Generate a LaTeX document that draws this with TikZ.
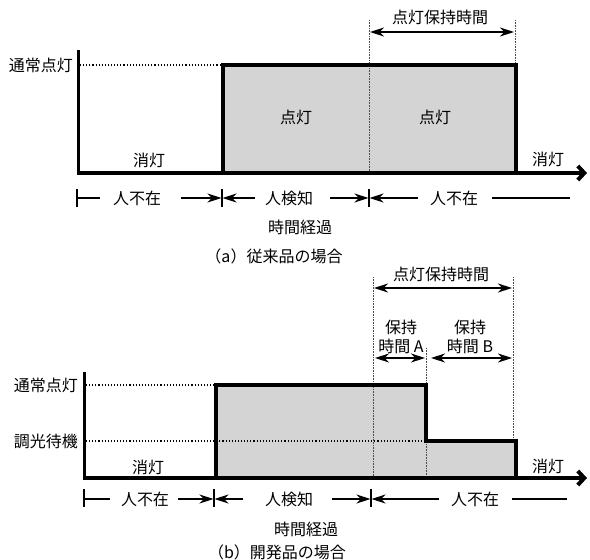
\documentclass[tikz,border=0pt]{standalone}
\usepackage{fontspec}
\newfontfamily\jp{Noto Sans CJK JP}
\usetikzlibrary{arrows.meta}
\definecolor{boxgray}{RGB}{212,212,212}
\tikzset{
  stepline/.style={line width=4pt, line join=miter},
  yaxis/.style={line width=3pt},
  xaxis/.style={line width=4pt, -{Straight Barb[length=6.5pt,width=14pt]}},
  dimarr/.style={line width=1.1pt, {Stealth[length=14pt,width=9pt,inset=4.5pt]}-{Stealth[length=14pt,width=9pt,inset=4.5pt]}},
  rarr/.style={line width=1.1pt, -{Stealth[length=14pt,width=9pt,inset=4.5pt]}},
  plainline/.style={line width=1.1pt},
  tickline/.style={line width=1.1pt},
  levelline/.style={line width=1.1pt, dash pattern=on 1.1pt off 2pt},
  guide/.style={line width=0.5pt, black!70, dash pattern=on 0.6pt off 1pt},
  lbl/.style={font=\jp\fontsize{16}{19}\selectfont, inner sep=0pt},
}
\begin{document}
\begin{tikzpicture}[x=1pt,y=-1pt]
\useasboundingbox (0,0) rectangle (590,560);

% ================= (a) =================
\fill[boxgray] (223,65) rectangle (516,173);
% guides
\coordinate (aG1t) at (369,20); \coordinate (aG1b) at (369,173);
\coordinate (aG2t) at (515,20); \coordinate (aG2b) at (515,65);
\draw[guide] (aG1t) -- (aG1b);
\draw[guide] (aG2t) -- (aG2b);
% level line
\coordinate (aL1) at (80,65); \coordinate (aL2) at (221,65);
\draw[levelline] (aL1) -- (aL2);
% axes
\coordinate (aYt) at (78,50); \coordinate (aO) at (78,173); \coordinate (aXe) at (587,173);
\draw[yaxis] (aYt) -- (78,175);
\draw[xaxis] (76.5,173) -- (aXe);
% step
\coordinate (aS1) at (223,173); \coordinate (aS2) at (223,65);
\coordinate (aS3) at (516,65); \coordinate (aS4) at (516,173);
\draw[stepline] (aS1) -- (aS2) -- (aS3) -- (aS4);
% texts
\node[lbl, anchor=east] (aNorm) at (73,65) {通常点灯};
\node[lbl] (aOff1) at (149,160) {消灯};
\node[lbl] (aOn1) at (296,117) {点灯};
\node[lbl] (aOn2) at (435,117) {点灯};
\node[lbl] (aOff2) at (548,159) {消灯};
\node[lbl] (aHold) at (440,17) {点灯保持時間};
\coordinate (aH1) at (370,32); \coordinate (aH2) at (514,32);
\draw[dimarr] (aH1) -- (aH2);
% bottom row
\coordinate (aT0a) at (77,189); \coordinate (aT0b) at (77,207);
\coordinate (aT1a) at (222,189); \coordinate (aT1b) at (222,207);
\coordinate (aT2a) at (369,189); \coordinate (aT2b) at (369,207);
\draw[tickline] (aT0a) -- (aT0b);
\draw[tickline] (aT1a) -- (aT1b);
\draw[tickline] (aT2a) -- (aT2b);
\node[lbl] (aAbs1) at (137,198) {人不在};
\node[lbl] (aDet) at (289,198) {人検知};
\node[lbl] (aAbs2) at (454,198) {人不在};
\coordinate (aR1) at (100,198); \coordinate (aR2) at (181,198);
\coordinate (aR3) at (255,198); \coordinate (aR4) at (330,198);
\coordinate (aR5) at (418,198); \coordinate (aR6) at (492,198);
\coordinate (aR7) at (570,198);
\draw[plainline] (77,198) -- (aR1);
\draw[rarr] (aR2) -- (221.5,198);
\draw[rarr] (aR3) -- (222.5,198);
\draw[rarr] (aR4) -- (368.5,198);
\draw[rarr] (aR5) -- (369.5,198);
\draw[plainline] (aR6) -- (aR7);
\node[lbl] (aTime) at (300,227) {時間経過};
\node[lbl] (aCap) at (274,256) {（a）従来品の場合};

% ================= (b) =================
\fill[boxgray] (216,385) -- (426,385) -- (426,441) -- (516,441) -- (516,478) -- (216,478) -- cycle;
\coordinate (bG1t) at (373,277); \coordinate (bG1b) at (373,478);
\coordinate (bG2t) at (426,348); \coordinate (bG2b) at (426,478);
\coordinate (bG3t) at (513,277); \coordinate (bG3b) at (513,441);
\draw[guide] (bG1t) -- (bG1b);
\draw[guide] (bG2t) -- (bG2b);
\draw[guide] (bG3t) -- (bG3b);
\coordinate (bL1) at (86,385); \coordinate (bL2) at (214,385);
\coordinate (bL3) at (86,441); \coordinate (bL4) at (422,441);
\draw[levelline] (bL1) -- (bL2);
\draw[levelline] (bL3) -- (bL4);
\coordinate (bYt) at (84,372); \coordinate (bXe) at (587,478);
\draw[yaxis] (bYt) -- (84,480);
\draw[xaxis] (82.5,478) -- (bXe);
\coordinate (bS1) at (216,478); \coordinate (bS2) at (216,385);
\coordinate (bS3) at (426,385); \coordinate (bS4) at (426,441);
\coordinate (bS5) at (516,441); \coordinate (bS6) at (516,478);
\draw[stepline] (bS1) -- (bS2) -- (bS3) -- (bS4) -- (bS5) -- (bS6);
\node[lbl, anchor=east] (bNorm) at (78,385) {通常点灯};
\node[lbl, anchor=east] (bDim) at (78,441) {調光待機};
\node[lbl] (bOff1) at (148,467) {消灯};
\node[lbl] (bOff2) at (548,466) {消灯};
\node[lbl] (bHold) at (441,274) {点灯保持時間};
\coordinate (bH1) at (374,288); \coordinate (bH2) at (512,288);
\draw[dimarr] (bH1) -- (bH2);
\node[lbl, align=center] (bA) at (401,337) {保持\\時間 A};
\node[lbl, align=center] (bB) at (470,337) {保持\\時間 B};
\coordinate (bA1) at (375,358); \coordinate (bA2) at (425,358);
\coordinate (bB1) at (431,358); \coordinate (bB2) at (512,358);
\draw[dimarr] (bA1) -- (bA2);
\draw[dimarr] (bB1) -- (bB2);
% bottom row
\coordinate (bT0a) at (84,489); \coordinate (bT0b) at (84,507);
\coordinate (bT1a) at (214,489); \coordinate (bT1b) at (214,507);
\coordinate (bT2a) at (371,489); \coordinate (bT2b) at (371,507);
\draw[tickline] (bT0a) -- (bT0b);
\draw[tickline] (bT1a) -- (bT1b);
\draw[tickline] (bT2a) -- (bT2b);
\node[lbl] (bAbs1) at (145,499) {人不在};
\node[lbl] (bDet) at (289,499) {人検知};
\node[lbl] (bAbs2) at (475,499) {人不在};
\coordinate (bR1) at (110,499); \coordinate (bR2) at (178,499);
\coordinate (bR3) at (243,499); \coordinate (bR4) at (332,499);
\coordinate (bR5) at (439,499); \coordinate (bR6) at (512,499);
\coordinate (bR7) at (567,499);
\draw[plainline] (84,499) -- (bR1);
\draw[rarr] (bR2) -- (213.5,499);
\draw[rarr] (bR3) -- (214.5,499);
\draw[rarr] (bR4) -- (370.5,499);
\draw[rarr] (bR5) -- (371.5,499);
\draw[plainline] (bR6) -- (bR7);
\node[lbl] (bTime) at (306,529) {時間経過};
\node[lbl] (bCap) at (277,552) {（b）開発品の場合};
\end{tikzpicture}
\end{document}
